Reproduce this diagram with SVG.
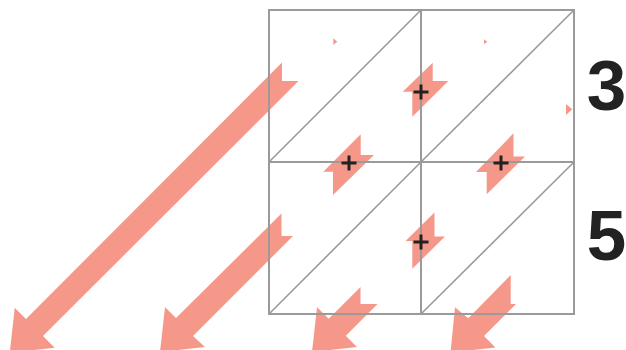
<svg xmlns="http://www.w3.org/2000/svg" xmlns:xlink="http://www.w3.org/1999/xlink" width="626" height="350" viewBox="0 0 626 350">
  <style>
    .arrow { fill: #f5988a; stroke: none; }
    .cell { fill: none; stroke: #9a9a9a; stroke-width: 2; }
    .diag { fill: none; stroke: #9a9a9a; stroke-width: 1.6; }
    .plus { fill: none; stroke: #222222; stroke-width: 3; }
    .digit { font-family: "Liberation Sans", Arial, sans-serif; font-weight: bold; font-size: 71px; fill: #222222; text-anchor: middle; }
  </style>
  <defs>
    <path id="plus" class="plus" d="M-7.5,0 H7.5 M0,-7.5 V7.5"/>
  </defs>
  <rect width="626" height="350" fill="#ffffff"/>

  <g id="connectors">
    <polygon class="arrow" points="282,62.5 282,81 298.5,81 43,336 54.75,347.75 9.75,352.75 14.75,307.75 26,319"/>
    <polygon class="arrow" points="281.5,213.5 281.5,236 293,236 193,336 205,347 160,352 165,307 176,318"/>
    <polygon class="arrow" points="360.5,287 360.5,304 377.5,304 345.75,335.75 357,347 312,352 317,307 328.75,318.75"/>
    <polygon class="arrow" points="510.7,275 510.7,304 516,304 484,336 495.5,347.5 450.5,352.5 455,307.3 468.3,318.3"/>
    <polygon class="arrow" points="432.7,62.7 432.7,81 448.3,81 412.3,116.7 412.3,91.7 402.7,91.7"/>
    <polygon class="arrow" points="360.7,134.3 360.7,155 374,155 333,195 333,171.7 323.3,171.7"/>
    <polygon class="arrow" points="513.5,133.3 513.5,156.5 525,156.5 486.7,194.3 486.7,172 476,172"/>
    <polygon class="arrow" points="434.5,212.5 434.5,236.5 445,236.5 412.3,268.7 412.3,241 405.5,241"/>
    <polygon class="arrow" points="333.3,38.3 337.3,41.7 333.3,45"/>
    <polygon class="arrow" points="484,39.3 487.3,41.7 484,44.3"/>
    <polygon class="arrow" points="566,104 572.3,109.3 566,115"/>
  </g>

  <g id="cell-r1c1">
    <rect class="cell" x="269" y="10" width="152" height="152"/>
    <line class="diag" x1="269" y1="162" x2="421" y2="10"/>
  </g>
  <g id="cell-r1c2">
    <rect class="cell" x="421" y="10" width="153" height="152"/>
    <line class="diag" x1="421" y1="162" x2="574" y2="10"/>
  </g>
  <g id="cell-r2c1">
    <rect class="cell" x="269" y="162" width="152" height="152"/>
    <line class="diag" x1="269" y1="314" x2="421" y2="162"/>
  </g>
  <g id="cell-r2c2">
    <rect class="cell" x="421" y="162" width="153" height="152"/>
    <line class="diag" x1="421" y1="314" x2="574" y2="162"/>
  </g>

  <g id="plus-signs">
    <use xlink:href="#plus" x="421" y="92"/>
    <use xlink:href="#plus" x="349" y="163"/>
    <use xlink:href="#plus" x="501" y="163"/>
    <use xlink:href="#plus" x="421" y="242"/>
  </g>

  <g id="label-3"><text class="digit" x="606.5" y="110">3</text></g>
  <g id="label-5"><text class="digit" x="606.5" y="260">5</text></g>
</svg>
